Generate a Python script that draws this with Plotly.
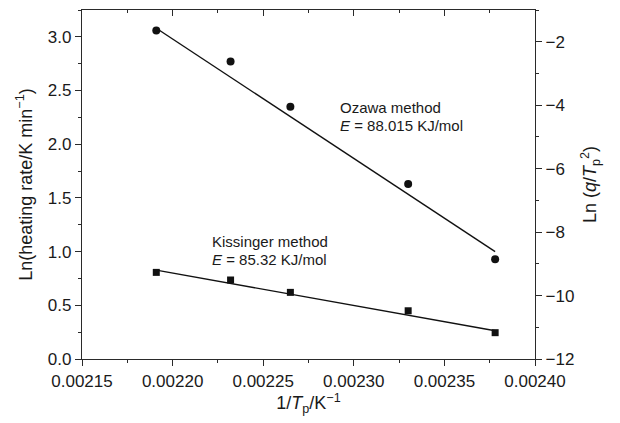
import plotly.graph_objects as go

# Data
inv_tp = [0.002191, 0.002232, 0.002265, 0.002330, 0.002378]
ozawa_ln_rate = [3.06, 2.77, 2.35, 1.63, 0.93]
kissinger_ln_q_tp2 = [-9.27, -9.51, -9.90, -10.48, -11.17]

# Fitted straight lines (end points)
ozawa_fit_x = [0.002191, 0.002378]
ozawa_fit_y = [3.08, 1.00]
kissinger_fit_x = [0.002191, 0.002378]
kissinger_fit_y = [-9.20, -11.11]

x_ticks = [0.00215, 0.00220, 0.00225, 0.00230, 0.00235, 0.00240]

FONT = "Liberation Sans, Arial, sans-serif"
AX = "#2a2a2a"
TXT = "#1a1a1a"

fig = go.Figure()

fig.add_trace(go.Scatter(x=ozawa_fit_x, y=ozawa_fit_y, mode="lines",
                         line=dict(color="#111111", width=1.4),
                         xaxis="x", yaxis="y", showlegend=False, hoverinfo="skip"))
fig.add_trace(go.Scatter(x=inv_tp, y=ozawa_ln_rate, mode="markers",
                         marker=dict(symbol="circle", size=8, color="#111111"),
                         xaxis="x", yaxis="y", showlegend=False))
fig.add_trace(go.Scatter(x=kissinger_fit_x, y=kissinger_fit_y, mode="lines",
                         line=dict(color="#111111", width=1.4),
                         xaxis="x", yaxis="y2", showlegend=False, hoverinfo="skip"))
fig.add_trace(go.Scatter(x=inv_tp, y=kissinger_ln_q_tp2, mode="markers",
                         marker=dict(symbol="square", size=7, color="#111111"),
                         xaxis="x", yaxis="y2", showlegend=False))
# invisible trace to activate the top (mirror) axis
fig.add_trace(go.Scatter(x=[x_ticks[0]], y=[0], mode="markers",
                         marker=dict(opacity=0), xaxis="x3", yaxis="y",
                         showlegend=False, hoverinfo="skip"))

xr = [x_ticks[0], x_ticks[-1]]

fig.update_layout(
    width=620, height=423,
    margin=dict(l=82, r=85, t=10, b=64),
    paper_bgcolor="white", plot_bgcolor="white",
    font=dict(family=FONT, color=TXT, size=17),
    xaxis=dict(
        range=xr, tickvals=x_ticks, tickformat=".5f",
        showline=True, linecolor=AX, linewidth=1.3,
        ticks="outside", ticklen=6, tickwidth=1.2, tickcolor=AX,
        minor=dict(ticks="outside", ticklen=3, tickwidth=1, tickcolor=AX, dtick=0.000025, tick0=0.00215),
        showgrid=False, zeroline=False,
        tickfont=dict(size=17, family=FONT, color=TXT),
        title=dict(text="1/<i>T</i><sub>p</sub>/K<sup>\u22121</sup>", font=dict(size=18, family=FONT, color=TXT), standoff=6),
    ),
    xaxis3=dict(
        range=xr, overlaying="x", side="top", anchor="y",
        tickvals=x_ticks, showticklabels=False,
        showline=True, linecolor=AX, linewidth=1.3,
        ticks="inside", ticklen=6, tickwidth=1.2, tickcolor=AX,
        minor=dict(ticks="inside", ticklen=3, tickwidth=1, tickcolor=AX, dtick=0.000025, tick0=0.00215),
        showgrid=False, zeroline=False,
    ),
    yaxis=dict(
        range=[0, 3.25], dtick=0.5, tick0=0, tickformat=".1f",
        showline=True, linecolor=AX, linewidth=1.3,
        ticks="outside", ticklen=6, tickwidth=1.2, tickcolor=AX,
        minor=dict(ticks="outside", ticklen=3, tickwidth=1, tickcolor=AX, dtick=0.25),
        showgrid=False, zeroline=False,
        tickfont=dict(size=17, family=FONT, color=TXT),
        title=dict(text="Ln(heating rate/K min<sup>\u22121</sup>)", font=dict(size=18, family=FONT, color=TXT), standoff=10),
    ),
    yaxis2=dict(
        range=[-12, -1], dtick=2, tick0=0, overlaying="y", side="right", anchor="x",
        showline=True, linecolor=AX, linewidth=1.3,
        ticks="outside", ticklen=6, tickwidth=1.2, tickcolor=AX,
        minor=dict(ticks="outside", ticklen=3, tickwidth=1, tickcolor=AX, dtick=1),
        showgrid=False, zeroline=False,
        tickfont=dict(size=17, family=FONT, color=TXT),
        title=dict(text="Ln (<i>q</i>/<i>T</i><sub>p</sub><sup>2</sup>)", font=dict(size=18, family=FONT, color=TXT), standoff=10),
    ),
)

ann_font = dict(size=15, family=FONT, color=TXT)
fig.add_annotation(x=0.0022913, y=2.34, xref="x", yref="y", text="Ozawa method",
                   showarrow=False, xanchor="left", yanchor="middle", font=ann_font)
fig.add_annotation(x=0.0022913, y=2.17, xref="x", yref="y", text="<i>E</i> = 88.015 KJ/mol",
                   showarrow=False, xanchor="left", yanchor="middle", font=ann_font)
fig.add_annotation(x=0.0022206, y=1.09, xref="x", yref="y", text="Kissinger method",
                   showarrow=False, xanchor="left", yanchor="middle", font=ann_font)
fig.add_annotation(x=0.0022206, y=0.925, xref="x", yref="y", text="<i>E</i> = 85.32 KJ/mol",
                   showarrow=False, xanchor="left", yanchor="middle", font=ann_font)

fig.write_html("out.html")
